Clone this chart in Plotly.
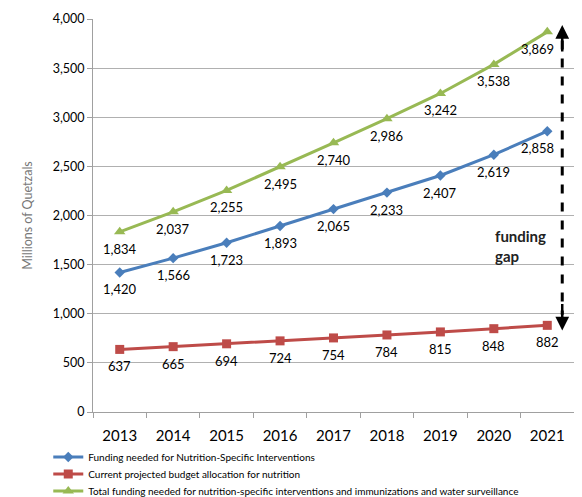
import plotly.graph_objects as go

years = ["2013", "2014", "2015", "2016", "2017", "2018", "2019", "2020", "2021"]
needed = [1420, 1566, 1723, 1893, 2065, 2233, 2407, 2619, 2858]
budget = [637, 665, 694, 724, 754, 784, 815, 848, 882]
total = [1834, 2037, 2255, 2495, 2740, 2986, 3242, 3538, 3869]
y_ticks = [0, 500, 1000, 1500, 2000, 2500, 3000, 3500, 4000]

FONT = "Lato, 'Open Sans', sans-serif"

def fmt(v):
    return f"{v:,}"

fig = go.Figure()
series = [
    ("Funding needed for Nutrition-Specific Interventions", needed, "#4A7EBB", "diamond", 8, "legend", -10),
    ("Current projected budget allocation for nutrition", budget, "#BE4B48", "square", 9, "legend2", 0),
    ("Total funding needed for nutrition-specific interventions and immunizations and water surveillance", total, "#98B954", "triangle-up", 10, "legend3", -10),
]
for name, vals, color, sym, size, leg, last_shift in series:
    fig.add_trace(go.Scatter(
        x=years, y=vals, name=name, mode="lines+markers",
        line=dict(color=color, width=3),
        marker=dict(symbol=sym, size=size, color=color),
        cliponaxis=False, legend=leg,
    ))
    for i, v in enumerate(vals):
        # category axis: annotation x given as the category index
        fig.add_annotation(x=i, y=v, xref="x", yref="y", text=fmt(v), showarrow=False,
                           yanchor="middle", xanchor="center", yshift=-17,
                           xshift=last_shift if i == len(vals) - 1 else 0,
                           font=dict(size=13, color="#000", family=FONT))

# funding gap arrow
fig.add_shape(type="line", xref="x", yref="y", x0=8.28, x1=8.28, y0=3780, y1=990,
              line=dict(color="black", width=3, dash="dash"))
fig.add_annotation(x=8.28, y=3940, xref="x", yref="y", ax=0, ay=28, text="",
                   showarrow=True, arrowhead=2, arrowsize=1.1, arrowwidth=2.5, arrowcolor="black")
fig.add_annotation(x=8.28, y=830, xref="x", yref="y", ax=0, ay=-28, text="",
                   showarrow=True, arrowhead=2, arrowsize=1.1, arrowwidth=2.5, arrowcolor="black")
fig.add_annotation(x=6.98, y=1690, xref="x", yref="y", xanchor="left", yanchor="middle",
                   text="<b>funding<br>gap</b>", showarrow=False, align="left",
                   font=dict(size=15, color="#222", family=FONT))

leg_common = dict(orientation="v", x=-0.093, xanchor="left", yanchor="middle",
                  font=dict(size=10, color="#000", family=FONT),
                  itemwidth=30, bgcolor="rgba(0,0,0,0)")

fig.update_layout(
    width=574, height=489,
    margin=dict(l=85, r=8, t=11, b=85, autoexpand=False),
    plot_bgcolor="white", paper_bgcolor="white",
    font=dict(family=FONT),
    showlegend=True,
    legend=dict(y=-0.1145, **leg_common),
    legend2=dict(y=-0.158, **leg_common),
    legend3=dict(y=-0.201, **leg_common),
    xaxis=dict(type="category", range=[-0.5, 8.5], showgrid=False,
               showline=True, linecolor="#A0A0A0", linewidth=1,
               ticks="outside", tickson="boundaries", ticklen=5, tickcolor="#A0A0A0",
               ticklabelstandoff=10,
               tickfont=dict(size=15, color="#000", family=FONT)),
    yaxis=dict(range=[0, 4000], tickvals=y_ticks, ticktext=[fmt(v) for v in y_ticks],
               showgrid=True, gridcolor="#B0B0B0", gridwidth=1,
               showline=True, linecolor="#A0A0A0", linewidth=1,
               ticks="outside", ticklen=5, tickcolor="#A0A0A0",
               tickfont=dict(size=12.5, color="#000", family=FONT),
               zeroline=False,
               title=dict(text="Millions of Quetzals", font=dict(size=12.5, color="#777", family=FONT), standoff=17)),
)

fig.write_html("out.html")
